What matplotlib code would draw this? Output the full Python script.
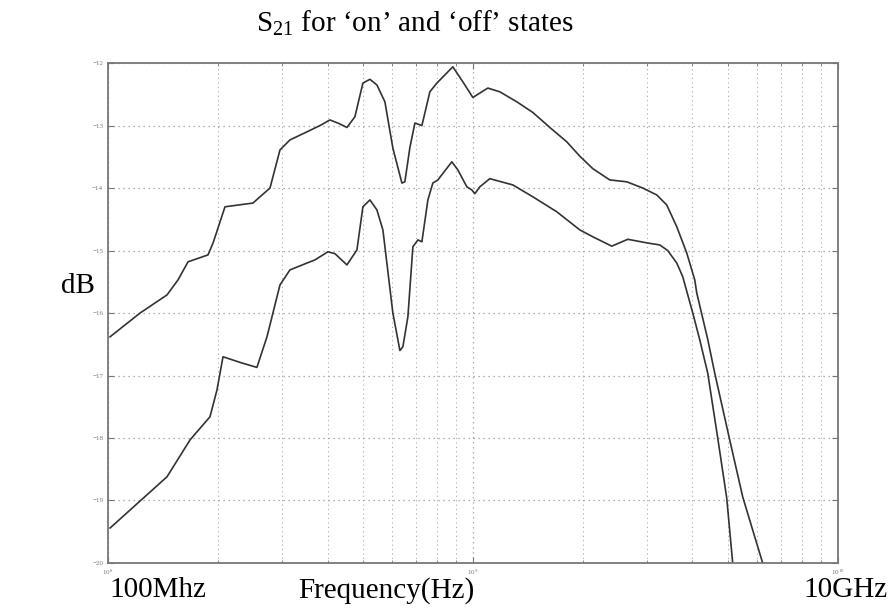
import matplotlib
matplotlib.use("Agg")
import matplotlib.pyplot as plt
import numpy as np
from matplotlib.ticker import LogLocator, FixedLocator

# upper trace, frequency in GHz / S21 in dB
upper_ghz = [0.1013, 0.1224, 0.1451, 0.1555, 0.1657, 0.1879, 0.1940, 0.2092, 0.2496,
             0.2609, 0.2779, 0.2960, 0.3152, 0.3510, 0.3809, 0.4057, 0.4268, 0.4517,
             0.4750, 0.4996, 0.5222, 0.5458, 0.5740, 0.6036, 0.6390, 0.6511, 0.6721,
             0.6937, 0.7250, 0.7624, 0.7968, 0.8814, 0.9389, 1.0, 1.0991, 1.1858,
             1.3201, 1.4601, 1.6255, 1.8091, 1.9646, 2.1328, 2.3731, 2.6421, 2.9233,
             3.1920, 3.4000, 3.6228, 3.8585, 4.0585, 4.1102, 4.4040, 4.6030, 5.0600,
             5.4920, 5.8480, 6.2300]
upper_db = [-16.38, -16.0, -15.71, -15.47, -15.18, -15.07, -14.88, -14.30, -14.24,
            -14.14, -14.0, -13.39, -13.23, -13.10, -13.00, -12.91, -12.96, -13.03,
            -12.86, -12.32, -12.26, -12.35, -12.62, -13.36, -13.92, -13.90, -13.35,
            -12.96, -13.0, -12.46, -12.32, -12.06, -12.30, -12.55, -12.40, -12.46,
            -12.62, -12.79, -13.03, -13.26, -13.49, -13.69, -13.87, -13.90, -14.0,
            -14.11, -14.27, -14.62, -15.04, -15.47, -15.68, -16.42, -16.96, -18.03,
            -18.94, -19.47, -20.0]

# lower trace
lower_ghz = [0.1013, 0.1451, 0.1678, 0.1903, 0.1989, 0.2066, 0.2329, 0.2559, 0.2727,
             0.2960, 0.3152, 0.3510, 0.3691, 0.4006, 0.4188, 0.4517, 0.4811, 0.4996,
             0.5222, 0.5458, 0.5668, 0.6036, 0.6310, 0.6430, 0.6637, 0.6849, 0.7070,
             0.7250, 0.7529, 0.7769, 0.8018, 0.8759, 0.9097, 0.9629, 0.9937, 1.0127,
             1.0452, 1.1130, 1.2874, 1.4601, 1.6989, 1.9646, 2.1328, 2.4033, 2.6591,
             3.0170, 3.2528, 3.4212, 3.6228, 3.7622, 4.0077, 4.1887, 4.4040, 4.6914,
             4.9654, 5.1564]
lower_db = [-19.44, -18.62, -18.03, -17.66, -17.23, -16.70, -16.80, -16.87, -16.38,
            -15.55, -15.31, -15.20, -15.15, -15.02, -15.05, -15.23, -14.99, -14.30,
            -14.19, -14.35, -14.67, -16.00, -16.60, -16.54, -16.06, -14.94, -14.83,
            -14.86, -14.19, -13.92, -13.87, -13.58, -13.71, -13.98, -14.03, -14.09,
            -13.98, -13.85, -13.95, -14.14, -14.38, -14.67, -14.78, -14.93, -14.82,
            -14.88, -14.91, -15.00, -15.20, -15.42, -16.00, -16.43, -16.96, -18.0,
            -18.96, -20.0]

y_ticks = [-12, -13, -14, -15, -16, -17, -18, -19, -20]

plt.rcParams["font.family"] = ["Liberation Serif", "DejaVu Serif"]
plt.rcParams["mathtext.fontset"] = "custom"
plt.rcParams["mathtext.rm"] = "Liberation Serif"

fig = plt.figure(figsize=(8.93, 6.13), dpi=100)
ax = fig.add_axes([0.121, 0.0816, 0.817, 0.8155])

for f, db in [(upper_ghz, upper_db), (lower_ghz, lower_db)]:
    ax.plot(np.array(f) * 1e9, db, color="#333333", lw=1.2)

ax.set_xscale("log")
ax.set_xlim(1e8, 1e10)
ax.set_ylim(-20, -12)
ax.yaxis.set_major_locator(FixedLocator(y_ticks))
ax.xaxis.set_major_locator(LogLocator(base=10))
ax.xaxis.set_minor_locator(LogLocator(base=10, subs=np.arange(2, 10)))
ax.xaxis.set_minor_formatter(plt.NullFormatter())

ax.grid(which="major", linestyle=(0, (1, 3)), color="#999999", lw=0.9)
ax.grid(which="minor", axis="x", linestyle=(0, (1, 3)), color="#aaaaaa", lw=0.8)

ax.tick_params(which="both", direction="in", top=True, right=True,
               labelsize=5, labelcolor="#777777", color="#777777")
ax.tick_params(which="major", length=4)
ax.tick_params(which="minor", length=2)
for s in ax.spines.values():
    s.set_color("#777777")
    s.set_linewidth(1.3)

fig.text(0.465, 0.962, "S$_{21}$ for \u2018on\u2019 and \u2018off\u2019 states",
         ha="center", va="center", fontsize=21)
fig.text(0.087, 0.533, "dB", ha="center", va="center", fontsize=21)
fig.text(0.123, 0.037, "100Mhz", ha="left", va="center", fontsize=21)
fig.text(0.433, 0.037, "Frequency(Hz)", ha="center", va="center", fontsize=21)
fig.text(0.994, 0.037, "10GHz", ha="right", va="center", fontsize=21)

fig.savefig("out.png", dpi=100)
